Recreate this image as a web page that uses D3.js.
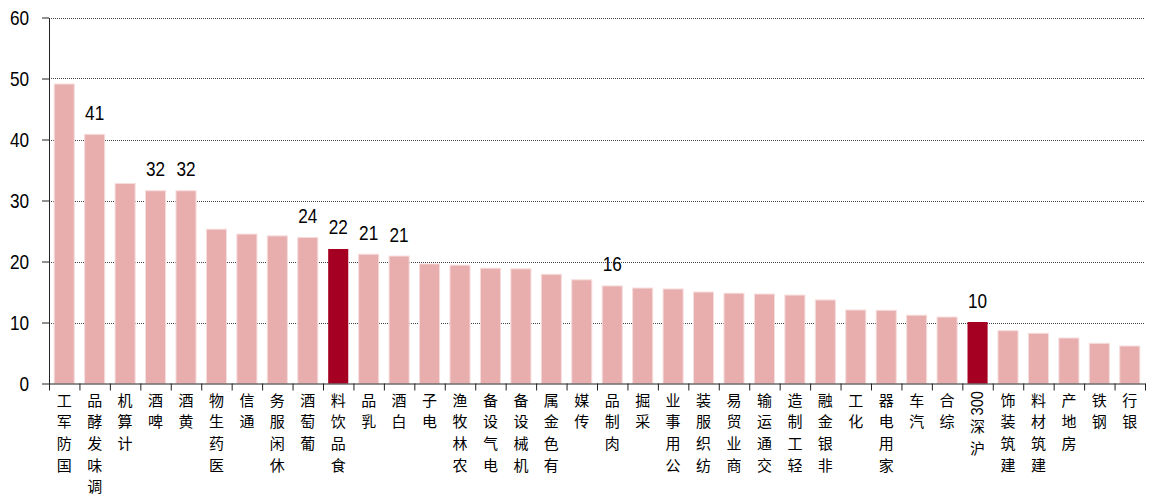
<!DOCTYPE html>
<html>
<head>
<meta charset="utf-8">
<script src="https://cdn.jsdelivr.net/npm/d3@7"></script>
<style>
  body { margin: 0; background: #fff; }
  .num { font-family: "Liberation Sans", Arial, sans-serif; fill: #000; }
  .cjk { font-family: "Noto Sans CJK SC", sans-serif; fill: #000; }
</style>
</head>
<body>
<div id="chart"></div>
<script>
var categories = ["国防军工", "调味发酵品", "计算机", "啤酒", "黄酒", "医药生物", "通信", "休闲服务", "葡萄酒", "食品饮料",
    "乳品", "白酒", "电子", "农林牧渔", "电气设备", "机械设备", "有色金属", "传媒", "肉制品", "采掘",
    "公用事业", "纺织服装", "商业贸易", "交通运输", "轻工制造", "非银金融", "化工", "家用电器", "汽车", "综合",
    "沪深300", "建筑装饰", "建筑材料", "房地产", "钢铁", "银行"];
var values = [49.1, 40.85, 32.8, 31.6, 31.6, 25.3, 24.5, 24.2, 23.95, 22.05,
    21.2, 20.9, 19.6, 19.4, 18.9, 18.8, 17.9, 17.0, 16.0, 15.65,
    15.5, 15.0, 14.8, 14.67, 14.5, 13.7, 12.05, 12.0, 11.2, 10.9,
    10.08, 8.66, 8.23, 7.46, 6.59, 6.15];
var highlighted = ["食品饮料", "沪深300"];
var labelled = ["调味发酵品", "啤酒", "黄酒", "葡萄酒", "食品饮料", "乳品", "白酒", "肉制品", "沪深300"];
var yTicks = [0, 10, 20, 30, 40, 50, 60];

var width = 1157,
    height = 500,
    plotLeft = 49,
    plotRight = 1145,
    plotTop = 17.5,
    plotBottom = 383.5,
    narrow = 0.86; // numbers look condensed in the original

var data = categories.map(function (c, i) { return { name: c, value: values[i] }; });

var svg = d3.select("#chart").append("svg")
    .attr("width", width)
    .attr("height", height);

var x = d3.scaleBand()
    .domain(categories)
    .range([plotLeft, plotRight])
    .paddingInner(0.34)
    .paddingOuter(0.17);

var y = d3.scaleLinear()
    .domain([0, 60])
    .range([plotBottom, plotTop]);

// dotted gridlines
svg.append("g")
    .selectAll("line")
    .data(yTicks.filter(function (d) { return d > 0; }))
    .enter().append("line")
    .attr("x1", plotLeft)
    .attr("x2", plotRight)
    .attr("y1", function (d) { return Math.round(y(d)) + 0.5; })
    .attr("y2", function (d) { return Math.round(y(d)) + 0.5; })
    .attr("stroke", "#444")
    .attr("stroke-dasharray", "1,1");

// bars
svg.append("g")
    .selectAll("rect")
    .data(data)
    .enter().append("rect")
    .attr("x", function (d) { return x(d.name); })
    .attr("y", function (d) { return y(d.value); })
    .attr("width", x.bandwidth())
    .attr("height", function (d) { return y(0) - y(d.value); })
    .attr("fill", function (d) { return highlighted.indexOf(d.name) >= 0 ? "#A50021" : "#E8AEAE"; })
    .attr("stroke", function (d) { return highlighted.indexOf(d.name) >= 0 ? "none" : "#F7DEDE"; })
    .attr("stroke-width", 1);

// value labels
svg.append("g")
    .selectAll("text")
    .data(data.filter(function (d) { return labelled.indexOf(d.name) >= 0; }))
    .enter().append("text")
    .attr("class", "num")
    .attr("transform", function (d) {
        return "translate(" + (x(d.name) + x.bandwidth() / 2) + "," + (y(d.value) - 14.5) + ") scale(" + narrow + ",1)";
    })
    .attr("text-anchor", "middle")
    .style("font-size", "20px")
    .text(function (d) { return Math.round(d.value); });

// y axis
var yAxis = svg.append("g")
    .attr("transform", "translate(" + plotLeft + ",0)")
    .call(d3.axisLeft(y).tickValues(yTicks).tickSize(7).tickPadding(13).tickSizeOuter(0));
yAxis.select(".domain").attr("stroke", "#222");
yAxis.selectAll(".tick line").attr("stroke", "#222");
yAxis.selectAll(".tick text")
    .attr("class", "num")
    .attr("font-family", null)
    .style("font-size", "20px")
    .attr("x", -20 / narrow)
    .attr("dy", "0.36em")
    .attr("transform", "scale(" + narrow + ",1)");

// x axis: ticks at the category boundaries
var boundary = d3.scaleLinear()
    .domain([0, categories.length])
    .range([plotLeft, plotRight]);
var xAxis = svg.append("g")
    .attr("transform", "translate(0," + plotBottom + ")")
    .call(d3.axisBottom(boundary).ticks(categories.length).tickSize(7).tickSizeOuter(0).tickFormat(""));
xAxis.select(".domain").attr("stroke", "#222");
xAxis.selectAll(".tick line").attr("stroke", "#222");

// category labels: read bottom to top, CJK glyphs kept upright
var pitch = 21.7;
var labelTop = 391;
var labels = svg.append("g");
data.forEach(function (d) {
    var cx = x(d.name) + x.bandwidth() / 2;
    var tokens = d.name.match(/[\x00-\x7F]+|./g);
    var g = labels.append("g");
    var cursor = labelTop;
    for (var i = tokens.length - 1; i >= 0; i--) {
        var t = tokens[i];
        if (/^[\x00-\x7F]+$/.test(t)) {
            var txt = g.append("text")
                .attr("class", "num")
                .style("font-size", "17px")
                .attr("text-anchor", "end")
                .attr("dominant-baseline", "central")
                .attr("transform", "translate(" + cx + "," + cursor + ") rotate(-90) scale(" + narrow + ",1)")
                .text(t);
            cursor += txt.node().getComputedTextLength() * narrow + 2;
        } else {
            g.append("text")
                .attr("class", "cjk")
                .style("font-size", "15px")
                .attr("text-anchor", "middle")
                .attr("dominant-baseline", "central")
                .attr("x", cx)
                .attr("y", cursor + 8)
                .text(t);
            cursor += pitch;
        }
    }
});
</script>
</body>
</html>
